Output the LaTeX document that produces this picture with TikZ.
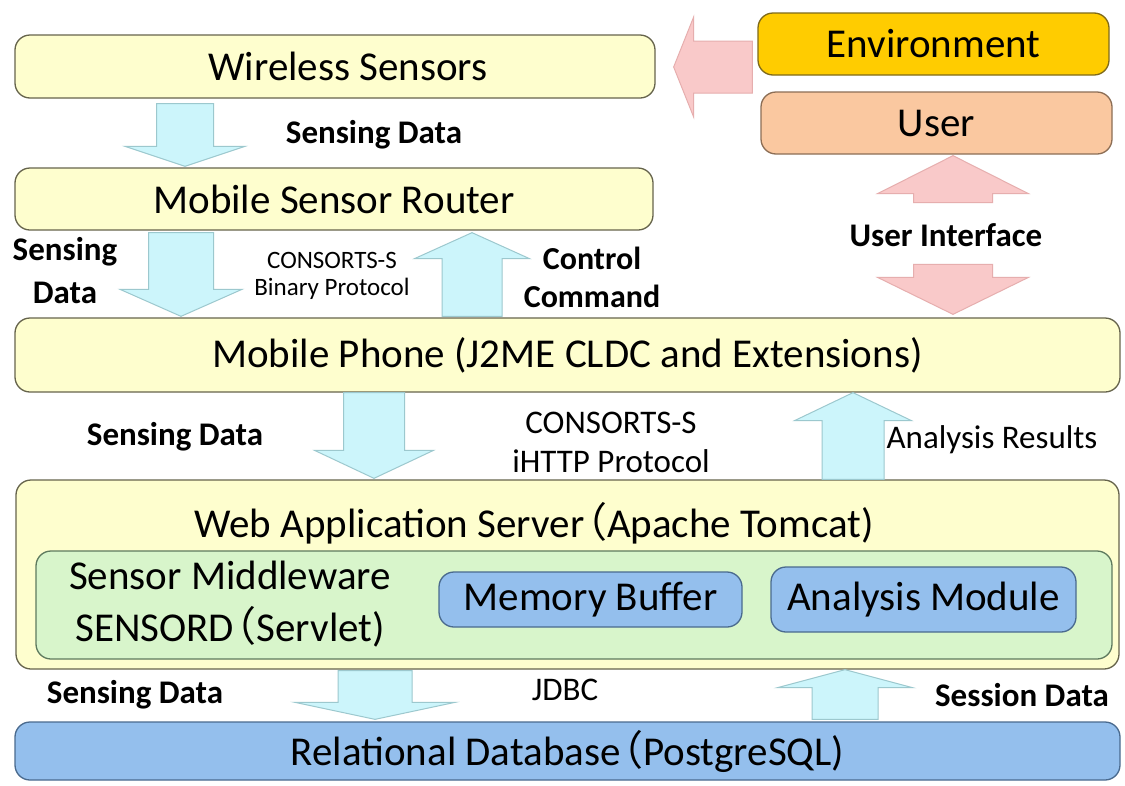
\documentclass[tikz,border=0pt]{standalone}
\usepackage{fontspec}
\setmainfont{Carlito}
\newfontfamily\cjk{Noto Sans CJK SC}
\usetikzlibrary{calc}

\definecolor{cream}{HTML}{FEFECE}
\definecolor{creamline}{HTML}{66644C}
\definecolor{envfill}{HTML}{FFCC00}
\definecolor{envline}{HTML}{7F6A1A}
\definecolor{userfill}{HTML}{FAC8A0}
\definecolor{userline}{HTML}{8C6E55}
\definecolor{mwfill}{HTML}{D8F5CB}
\definecolor{mwline}{HTML}{5E7A5E}
\definecolor{dbfill}{HTML}{94BFED}
\definecolor{dbline}{HTML}{4A6A8E}
\definecolor{cyanfill}{HTML}{CCF5FB}
\definecolor{cyanline}{HTML}{9CC8CE}
\definecolor{pinkfill}{HTML}{F9C9C9}
\definecolor{pinkline}{HTML}{E6AEAE}

% full width opening bracket
\newcommand{\fwparen}{\hspace{-0.45em}{\cjk （}}

% block arrow: style, start, tip, shaft half width, head half width, head length
\newcommand{\fatarrow}[6]{%
  \draw[#1] let \p1=#2, \p2=#3, \n1={sign(\y2-\y1)} in
    ({\x1-#4},\y1) -- ({\x1-#4},{\y2-(\n1)*#6}) -- ({\x1-#5},{\y2-(\n1)*#6}) -- (\x1,\y2)
    -- ({\x1+#5},{\y2-(\n1)*#6}) -- ({\x1+#4},{\y2-(\n1)*#6}) -- ({\x1+#4},\y1) -- cycle;}

\tikzset{
  box/.style={draw=creamline, line width=1.3pt, rounded corners=15pt, fill=cream,
    inner sep=0pt, font=\fontsize{41}{48}\selectfont},
  lbl/.style={font=\bfseries\fontsize{33}{43}\selectfont, align=center, inner sep=0pt},
  note/.style={font=\fontsize{33}{39}\selectfont, align=center, inner sep=0pt},
  smallnote/.style={font=\fontsize{25}{27}\selectfont, align=center, inner sep=0pt},
  cyanarr/.style={fill=cyanfill, draw=cyanline, line width=1pt},
  pinkarr/.style={fill=pinkfill, draw=pinkline, line width=1pt},
}

\begin{document}
\begin{tikzpicture}[x=1pt,y=-1pt]
\useasboundingbox[fill=white] (0,0) rectangle (1125,785);

% boxes
\node[box, minimum width=640pt, minimum height=63pt] (ws) at (335,66.5) {\hspace*{26pt}Wireless Sensors};
\node[box, fill=envfill, draw=envline, minimum width=351pt, minimum height=62pt] (env) at (933.5,44) {Environment};
\node[box, fill=userfill, draw=userline, minimum width=351pt, minimum height=62pt] (user) at (936.5,123) {User};
\node[box, minimum width=638pt, minimum height=62pt] (msr) at (334,199) {Mobile Sensor Router};
\node[box, minimum width=1105pt, minimum height=74pt] (phone) at (567.5,355) {Mobile Phone (J2ME CLDC and Extensions)};
\node[box, minimum width=1103pt, minimum height=189pt] (web) at (567.5,574.5) {};
\node[font=\fontsize{41}{52}\selectfont, inner sep=0pt] (webtitle) at (534,523) {Web Application Server\fwparen Apache Tomcat)};
\node[box, fill=mwfill, draw=mwline, minimum width=1076pt, minimum height=108pt] (mw) at (574,605) {};
\node[font=\fontsize{41}{52}\selectfont, align=center, inner sep=0pt] (mwtext) at (230,604) {Sensor Middleware\\SENSORD\fwparen Servlet)};
\node[box, fill=dbfill, draw=dbline, minimum width=303pt, minimum height=55pt] (membuf) at (590.5,599.5) {Memory Buffer};
\node[box, fill=dbfill, draw=dbline, minimum width=305pt, minimum height=65pt] (anmod) at (923.5,599.5) {Analysis Module};
\node[box, fill=dbfill, draw=dbline, minimum width=1105pt, minimum height=58pt] (db) at (567.5,751) {Relational Database\fwparen PostgreSQL)};

% arrows
\fatarrow{cyanarr}{($(ws.south)+(-150,5)$)}{($(msr.north)+(-149,-1)$)}{28.5pt}{60pt}{20pt}
\fatarrow{cyanarr}{($(msr.south)+(-153,2)$)}{($(phone.north)+(-386.5,-1)$)}{32.5pt}{61pt}{27pt}
\fatarrow{cyanarr}{($(phone.north)+(-95.5,-1)$)}{($(msr.south)+(138,2)$)}{30pt}{57.5pt}{26pt}
\fatarrow{pinkarr}{($(user.south)+(16.5,48)$)}{($(user.south)+(16.5,1)$)}{39.5pt}{75.5pt}{38pt}
\fatarrow{pinkarr}{($(phone.north)+(385.5,-53)$)}{($(phone.north)+(385.5,-3)$)}{39.5pt}{75.5pt}{37pt}
\fatarrow{cyanarr}{($(phone.south)+(-193.5,0)$)}{($(web.north)+(-193.5,-1)$)}{30.5pt}{59.5pt}{28pt}
\fatarrow{cyanarr}{($(web.north)+(285.5,0)$)}{($(phone.south)+(285.5,0)$)}{31pt}{58.5pt}{28pt}
\fatarrow{cyanarr}{($(web.south)+(-192.5,1)$)}{($(db.north)+(-192.5,-2)$)}{37pt}{80pt}{17pt}
\fatarrow{cyanarr}{($(db.north)+(277.5,-2)$)}{($(web.south)+(277.5,0)$)}{33pt}{67.5pt}{18pt}
\draw[pinkarr] let \p1=($(env.west)+(-5,23)$), \p2=($(ws.east)+(18,0)$) in
  (\x1,{\y1+26pt}) -- ({\x2+20pt},{\y1+26pt}) -- ({\x2+20pt},{\y1+50pt}) -- (\x2,\y1)
  -- ({\x2+20pt},{\y1-50pt}) -- ({\x2+20pt},{\y1-26pt}) -- (\x1,{\y1-26pt}) -- cycle;

% labels
\node[lbl] (sd1) at (374,135) {Sensing Data};
\node[lbl] (sd2) at (65,271) {Sensing\\Data};
\node[smallnote] (bin) at (332,276) {CONSORTS-S\\Binary Protocol};
\node[lbl, font=\bfseries\fontsize{32}{38}\selectfont] (ctrl) at (592,277) {Control\\Command};
\node[lbl] (ui) at (946,235) {User Interface};
\node[lbl] (sd3) at (175,437) {Sensing Data};
\node[note] (http) at (611,442) {CONSORTS-S\\iHTTP Protocol};
\node[note] (res) at (992,440) {Analysis Results};
\node[lbl] (sd4) at (135,695) {Sensing Data};
\node[note] (jdbc) at (565,690) {JDBC};
\node[lbl] (sess) at (1022,695) {Session Data};
\end{tikzpicture}
\end{document}
